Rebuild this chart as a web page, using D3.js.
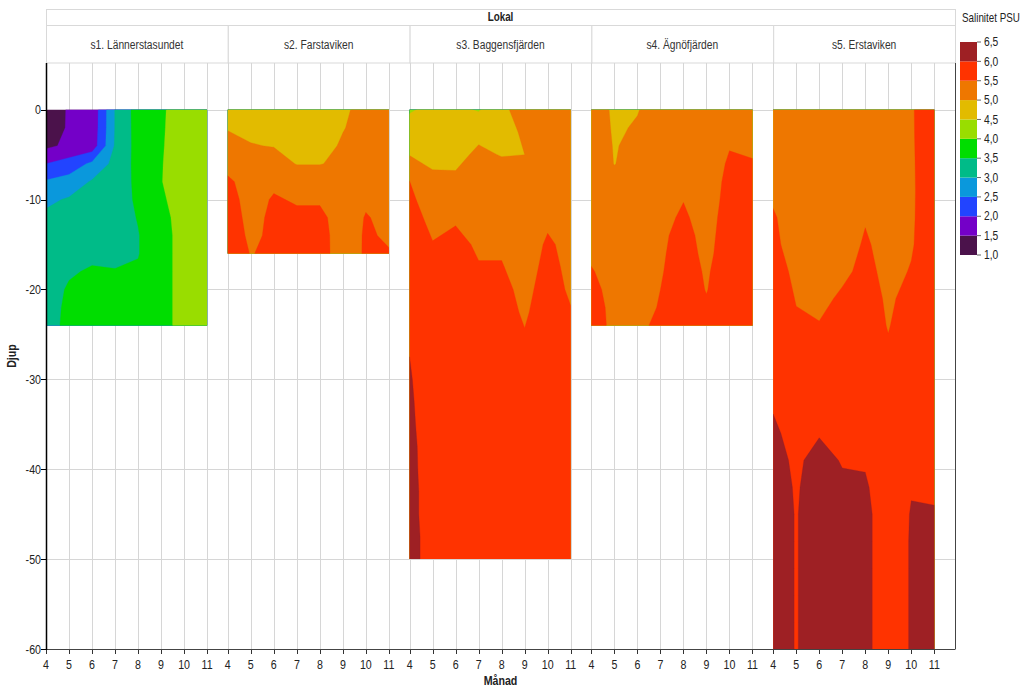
<!DOCTYPE html>
<html><head><meta charset="utf-8">
<script src="https://cdn.jsdelivr.net/npm/d3@7"></script>
<style>
body{margin:0;background:#fff}
svg{display:block;font-family:"Liberation Sans",Arial,sans-serif}
</style>
</head><body><svg id="c" width="1024" height="689"></svg>
<script>
// ---------------- data ----------------
const months = [4, 5, 6, 7, 8, 9, 10, 11];
const monthTicks = [4, 5, 6, 7, 8, 9, 10, 11];
const depthTicks = [0, -10, -20, -30, -40, -50, -60];
const stripTitle = "Lokal";
const siteNames = ["s1. Lännerstasundet", "s2. Farstaviken", "s3. Baggensfjärden", "s4. Ägnöfjärden", "s5. Erstaviken"];
const thresholds = [1.0, 1.5, 2.0, 2.5, 3.0, 3.5, 4.0, 4.5, 5.0, 5.5, 6.0];
const legendValues = [1.0, 1.5, 2.0, 2.5, 3.0, 3.5, 4.0, 4.5, 5.0, 5.5, 6.0, 6.5];
const legendLabels = ["1,0", "1,5", "2,0", "2,5", "3,0", "3,5", "4,0", "4,5", "5,0", "5,5", "6,0", "6,5"];
const binColors = ["#4b124b", "#7400c8", "#2244ff", "#0a98dc", "#00bb88", "#00dd00", "#99dd00", "#e2bb00", "#ee7700", "#ff3300", "#9e2024"];

// depth levels (m) per site
const s1Depths = [0, 2, 4, 6, 8, 10, 12, 14, 16, 18, 20, 22, 24];
const s2Depths = [0, 2, 4, 6, 8, 10, 12, 14, 16];
const s3Depths = [0, 2.5, 5, 7.5, 10, 12.5, 15, 17.5, 20, 22.5, 25, 27.5, 30, 32.5, 35, 37.5, 40, 42.5, 45, 47.5, 50];
const s4Depths = [0, 2, 4, 6, 8, 10, 12, 14, 16, 18, 20, 22, 24];
const s5Depths = [0, 3, 6, 9, 12, 15, 18, 21, 24, 27, 30, 33, 36, 39, 42, 45, 48, 51, 54, 57, 60];

// salinity (PSU): one row per month (4..11), values along the depth levels
const s1Salinity = [
  [1.2, 1.25, 1.4, 2.0, 2.55, 2.9, 3.1, 3.2, 3.25, 3.3, 3.3, 3.3, 3.3],
  [1.55, 1.55, 1.6, 2.2, 2.7, 3.05, 3.2, 3.25, 3.3, 3.45, 3.55, 3.6, 3.63],
  [1.63, 1.65, 1.7, 2.6, 3.05, 3.15, 3.2, 3.3, 3.4, 3.55, 3.6, 3.65, 3.7],
  [3.02, 3.02, 3.05, 3.15, 3.2, 3.25, 3.3, 3.35, 3.4, 3.52, 3.65, 3.7, 3.7],
  [3.71, 3.7, 3.68, 3.65, 3.62, 3.58, 3.52, 3.48, 3.48, 3.55, 3.65, 3.7, 3.7],
  [3.9, 3.92, 3.95, 3.97, 3.98, 3.92, 3.85, 3.8, 3.8, 3.8, 3.8, 3.8, 3.8],
  [4.35, 4.35, 4.3, 4.3, 4.3, 4.25, 4.2, 4.2, 4.2, 4.2, 4.2, 4.2, 4.2],
  [4.3, 4.3, 4.3, 4.3, 4.3, 4.3, 4.3, 4.3, 4.3, 4.3, 4.3, 4.3, 4.3]
];
const s2Salinity = [
  [4.8, 4.98, 5.1, 5.3, 5.6, 5.7, 5.75, 5.8, 5.8],
  [4.8, 4.9, 5.02, 5.15, 5.25, 5.3, 5.35, 5.4, 5.48],
  [4.75, 4.85, 4.98, 5.2, 5.4, 5.55, 5.6, 5.6, 5.6],
  [4.7, 4.75, 4.85, 4.98, 5.3, 5.45, 5.6, 5.65, 5.65],
  [4.7, 4.75, 4.85, 4.98, 5.3, 5.45, 5.6, 5.65, 5.65],
  [4.95, 4.98, 5.05, 5.1, 5.2, 5.25, 5.3, 5.3, 5.31],
  [5.1, 5.15, 5.2, 5.25, 5.35, 5.45, 5.52, 5.54, 5.54],
  [5.15, 5.2, 5.25, 5.3, 5.35, 5.4, 5.42, 5.46, 5.52]
];
const s3Salinity = [
  [4.46, 4.7, 4.98, 5.48, 5.6, 5.7, 5.75, 5.8, 5.85, 5.9, 5.95, 6.0, 6.03, 6.05, 6.07, 6.1, 6.1, 6.12, 6.12, 6.15, 6.15],
  [4.6, 4.75, 4.9, 5.05, 5.25, 5.4, 5.52, 5.6, 5.65, 5.7, 5.72, 5.75, 5.78, 5.8, 5.8, 5.8, 5.82, 5.82, 5.82, 5.82, 5.82],
  [4.62, 4.7, 4.88, 5.05, 5.3, 5.48, 5.6, 5.65, 5.7, 5.72, 5.75, 5.75, 5.78, 5.8, 5.8, 5.8, 5.8, 5.8, 5.8, 5.8, 5.8],
  [4.46, 4.9, 5.08, 5.2, 5.3, 5.35, 5.45, 5.52, 5.6, 5.65, 5.7, 5.72, 5.75, 5.78, 5.8, 5.8, 5.8, 5.8, 5.8, 5.8, 5.8],
  [4.95, 4.95, 4.98, 5.2, 5.3, 5.35, 5.45, 5.52, 5.6, 5.65, 5.7, 5.72, 5.75, 5.78, 5.8, 5.8, 5.8, 5.8, 5.8, 5.8, 5.8],
  [5.1, 5.02, 5.0, 5.1, 5.2, 5.25, 5.3, 5.35, 5.4, 5.45, 5.52, 5.6, 5.65, 5.7, 5.75, 5.78, 5.8, 5.8, 5.8, 5.8, 5.8],
  [5.15, 5.2, 5.25, 5.3, 5.38, 5.45, 5.55, 5.6, 5.65, 5.7, 5.72, 5.75, 5.78, 5.8, 5.8, 5.8, 5.8, 5.8, 5.8, 5.8, 5.8],
  [5.15, 5.2, 5.25, 5.3, 5.35, 5.38, 5.4, 5.42, 5.45, 5.52, 5.6, 5.65, 5.7, 5.72, 5.75, 5.75, 5.78, 5.78, 5.8, 5.8, 5.8]
];
const s4Salinity = [
  [5.1, 5.15, 5.2, 5.25, 5.3, 5.35, 5.38, 5.4, 5.45, 5.52, 5.58, 5.62, 5.65],
  [4.97, 4.97, 4.98, 4.99, 5.1, 5.2, 5.25, 5.3, 5.35, 5.38, 5.4, 5.42, 5.42],
  [4.99, 5.02, 5.08, 5.15, 5.2, 5.25, 5.3, 5.35, 5.38, 5.4, 5.42, 5.45, 5.47],
  [5.1, 5.15, 5.2, 5.25, 5.3, 5.35, 5.4, 5.44, 5.46, 5.48, 5.5, 5.51, 5.53],
  [5.15, 5.2, 5.25, 5.3, 5.4, 5.49, 5.55, 5.6, 5.62, 5.62, 5.62, 5.62, 5.62],
  [5.2, 5.22, 5.25, 5.28, 5.3, 5.33, 5.36, 5.4, 5.43, 5.47, 5.49, 5.53, 5.58],
  [5.3, 5.4, 5.48, 5.55, 5.6, 5.62, 5.65, 5.65, 5.65, 5.65, 5.65, 5.65, 5.65],
  [5.3, 5.38, 5.45, 5.52, 5.58, 5.6, 5.62, 5.62, 5.62, 5.62, 5.62, 5.62, 5.62]
];
const s5Salinity = [
  [5.1, 5.2, 5.3, 5.4, 5.55, 5.6, 5.7, 5.75, 5.8, 5.85, 5.9, 5.98, 6.05, 6.1, 6.15, 6.2, 6.2, 6.2, 6.2, 6.2, 6.2],
  [5.05, 5.1, 5.15, 5.2, 5.25, 5.3, 5.4, 5.48, 5.55, 5.65, 5.75, 5.85, 5.9, 5.95, 5.97, 5.98, 5.98, 5.98, 5.98, 5.98, 5.98],
  [5.0, 5.05, 5.1, 5.15, 5.2, 5.25, 5.32, 5.4, 5.52, 5.6, 5.7, 5.85, 5.98, 6.1, 6.15, 6.2, 6.2, 6.2, 6.2, 6.2, 6.2],
  [5.05, 5.1, 5.15, 5.2, 5.25, 5.3, 5.42, 5.56, 5.65, 5.7, 5.75, 5.85, 5.92, 5.98, 6.05, 6.1, 6.15, 6.15, 6.15, 6.15, 6.15],
  [5.1, 5.15, 5.25, 5.35, 5.47, 5.55, 5.6, 5.65, 5.7, 5.75, 5.8, 5.85, 5.9, 5.96, 6.05, 6.1, 6.1, 6.1, 6.1, 6.1, 6.1],
  [5.1, 5.15, 5.2, 5.25, 5.3, 5.35, 5.4, 5.45, 5.48, 5.55, 5.6, 5.65, 5.7, 5.72, 5.75, 5.77, 5.77, 5.77, 5.77, 5.77, 5.77],
  [5.485, 5.48, 5.47, 5.46, 5.46, 5.47, 5.52, 5.6, 5.7, 5.75, 5.8, 5.85, 5.9, 5.95, 5.98, 6.02, 6.03, 6.03, 6.03, 6.03, 6.03],
  [5.6, 5.62, 5.65, 5.68, 5.7, 5.72, 5.75, 5.78, 5.8, 5.82, 5.85, 5.88, 5.9, 5.93, 5.96, 6.02, 6.05, 6.1, 6.1, 6.1, 6.1]
];
const siteDepths = [s1Depths, s2Depths, s3Depths, s4Depths, s5Depths];
const siteSalinity = [s1Salinity, s2Salinity, s3Salinity, s4Salinity, s5Salinity];

// ---------------- layout ----------------
const svg = d3.select("#c");
const plotL = 46, plotR = 955, plotT = 63, plotB = 649;
const panelW = (plotR - plotL) / siteNames.length;
const gridColor = "#d6d6d6";
const textColor = "#222";
const SX = 0.82; // narrow-font look

function ntext(parent, x, y, str, size, opts = {}) {
  const t = parent.append("text")
    .attr("transform", `translate(${x},${y}) scale(${SX},1)`)
    .attr("font-size", size).attr("fill", opts.fill || textColor)
    .attr("text-anchor", opts.anchor || "start")
    .text(str);
  if (opts.bold) t.attr("font-weight", "bold");
  return t;
}

const y = d3.scaleLinear().domain([5.2, -60]).range([plotT, plotB]);
const xFor = i => d3.scaleLinear().domain([4, 11.9]).range([plotL + i * panelW, plotL + (i + 1) * panelW]);
const color = d3.scaleThreshold().domain(thresholds.slice(1)).range(binColors);

svg.append("rect").attr("width", 1024).attr("height", 689).attr("fill", "#fff");

// outer strip
svg.append("rect").attr("x", plotL + 0.5).attr("y", 9.5).attr("width", plotR - plotL).attr("height", 16)
  .attr("fill", "#fff").attr("stroke", "#d9d9d9");
ntext(svg, (plotL + plotR) / 2, 21, stripTitle, 12, { anchor: "middle", bold: true });

// horizontal grid
svg.append("g").selectAll("line").data(depthTicks).join("line")
  .attr("x1", plotL).attr("x2", plotR)
  .attr("y1", d => Math.round(y(d)) + 0.5).attr("y2", d => Math.round(y(d)) + 0.5)
  .attr("stroke", gridColor);

siteNames.forEach((name, i) => {
  const x = xFor(i);
  const left = plotL + i * panelW;
  const g = svg.append("g");
  g.append("rect").attr("x", left + 0.5).attr("y", 25.5).attr("width", panelW).attr("height", 37.5)
    .attr("fill", "#fff").attr("stroke", "#d9d9d9");
  ntext(g, left + panelW / 2, 49, name, 12.5, { anchor: "middle", fill: "#333" });
  g.append("g").selectAll("line").data(monthTicks).join("line")
    .attr("x1", d => Math.round(x(d)) + 0.5).attr("x2", d => Math.round(x(d)) + 0.5)
    .attr("y1", plotT).attr("y2", plotB)
    .attr("stroke", gridColor);

  // filled contours
  const depths = siteDepths[i];
  const sal = siteSalinity[i];
  const nx = months.length, ny = depths.length;
  const values = new Array(nx * ny);
  for (let r = 0; r < ny; r++) for (let c = 0; c < nx; c++) values[r * nx + c] = sal[c][r];
  const colToMonth = d3.scaleLinear().domain(d3.range(nx)).range(months);
  const rowToDepth = d3.scaleLinear().domain(d3.range(ny)).range(depths);
  const proj = d3.geoTransform({
    point(px, py) { this.stream.point(x(colToMonth(px - 0.5)), y(-rowToDepth(py - 0.5))); }
  });
  const path = d3.geoPath(proj);
  const clipId = "clip" + i;
  const maxD = d3.max(depths);
  svg.append("clipPath").attr("id", clipId).append("rect")
    .attr("x", x(months[0])).attr("y", y(0))
    .attr("width", x(months[nx - 1]) - x(months[0])).attr("height", y(-maxD) - y(0));
  const contours = d3.contours().size([nx, ny]).thresholds(thresholds)(values);
  g.append("g").attr("clip-path", `url(#${clipId})`).selectAll("path").data(contours).join("path")
    .attr("d", path)
    .attr("fill", d => color(d.value))
    .attr("stroke", d => color(d.value)).attr("stroke-width", 0.3);

  const ax = g.append("g");
  ax.selectAll("line").data(monthTicks).join("line")
    .attr("x1", d => Math.round(x(d)) + 0.5).attr("x2", d => Math.round(x(d)) + 0.5)
    .attr("y1", plotB).attr("y2", plotB + 5).attr("stroke", "#333");
  monthTicks.forEach(m => ntext(ax, x(m), 669, String(m), 13, { anchor: "middle" }));
});

// frame lines
svg.append("line").attr("x1", plotL).attr("x2", plotR + 0.5).attr("y1", plotB + 0.5).attr("y2", plotB + 0.5).attr("stroke", "#444");
svg.append("line").attr("x1", plotR + 0.5).attr("x2", plotR + 0.5).attr("y1", plotT).attr("y2", plotB).attr("stroke", "#444");
svg.append("line").attr("x1", plotL + 0.5).attr("x2", plotL + 0.5).attr("y1", plotT).attr("y2", plotB + 1).attr("stroke", "#000").attr("stroke-width", 1.5);

// y axis
const yax = svg.append("g");
yax.selectAll("line").data(depthTicks).join("line")
  .attr("x1", plotL - 5).attr("x2", plotL)
  .attr("y1", d => Math.round(y(d)) + 0.5).attr("y2", d => Math.round(y(d)) + 0.5).attr("stroke", "#000");
depthTicks.forEach(d => ntext(yax, plotL - 5, y(d) + 4.5, String(d), 13, { anchor: "end" }));

// axis titles
ntext(svg, (plotL + plotR) / 2, 685, "Månad", 13, { anchor: "middle", bold: true });
svg.append("text").attr("transform", `translate(16,${(plotT + plotB) / 2}) rotate(-90) scale(${SX},1)`)
  .attr("text-anchor", "middle").attr("font-size", 13).attr("font-weight", "bold").attr("fill", textColor).text("Djup");

// legend
const legTop = 42, legBot = 255, legX = 960, legW = 17;
const ly = d3.scaleLinear().domain([1.0, 6.5]).range([legBot, legTop]);
const lg = svg.append("g");
ntext(lg, 962, 22, "Salinitet PSU", 12);
lg.selectAll("rect").data(thresholds).join("rect")
  .attr("x", legX).attr("width", legW)
  .attr("y", d => ly(d + 0.5)).attr("height", d => ly(d) - ly(d + 0.5))
  .attr("fill", d => color(d));
lg.selectAll("line").data(legendValues).join("line")
  .attr("x1", legX + legW).attr("x2", legX + legW + 4)
  .attr("y1", d => ly(d)).attr("y2", d => ly(d)).attr("stroke", "#666");
legendValues.forEach((v, k) => ntext(lg, 984, ly(v) + 4.2, legendLabels[k], 12.5));
</script>
</body></html>
